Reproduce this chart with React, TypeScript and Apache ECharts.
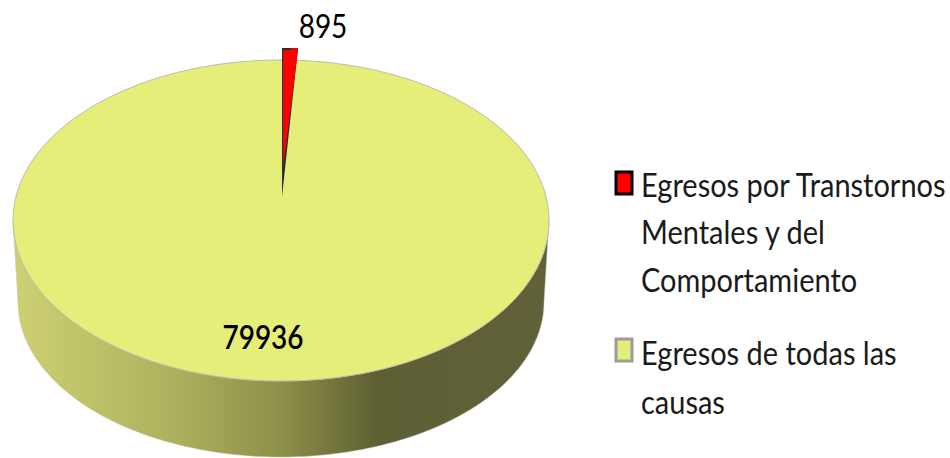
import React, { useEffect, useRef } from "react";
import * as echarts from "echarts";

const sliceNames = ["Egresos por Transtornos Mentales y del Comportamiento", "Egresos de todas las causas"];
const sliceValues = [895, 79936];
const legendLines = [
  ["Egresos por Transtornos", "Mentales y del", "Comportamiento"],
  ["Egresos de todas las", "causas"],
];
const total = sliceValues[0] + sliceValues[1];

const TOP = "#e6ee7a";
const RED = "#ff0000";
const FONT = "Lato, Carlito, 'Open Sans', sans-serif";

function ellipsePts(cx: number, cy: number, rx: number, ry: number, a0: number, a1: number, n = 120) {
  const out: number[][] = [];
  for (let i = 0; i <= n; i++) {
    const a = a0 + ((a1 - a0) * i) / n;
    out.push([cx + rx * Math.cos(a), cy + ry * Math.sin(a)]);
  }
  return out;
}

function renderDisc(_: any, api: any) {
  const value = api.value(0);
  const cx = 281, cy = 220.5, rx = 268, ry = 160.5;
  const top = ellipsePts(cx, cy, rx, ry, 0, Math.PI);
  const bottom = ellipsePts(cx, 302, 263, 155, Math.PI, 0);
  return {
    type: "group",
    children: [
      {
        type: "polygon",
        shape: { points: [...top, ...bottom] },
        style: {
          fill: new echarts.graphic.LinearGradient(0, 0, 1, 0, [
            { offset: 0, color: "#cdd172" },
            { offset: 0.3, color: "#adb15d" },
            { offset: 0.5, color: "#8d9049" },
            { offset: 0.68, color: "#5e5f33" },
            { offset: 1, color: "#60613a" },
          ]),
          stroke: "#c4c4b4",
          lineWidth: 0.5,
        },
      },
      {
        type: "ellipse",
        shape: { cx, cy, rx, ry },
        style: { fill: TOP, stroke: "#bdbdae", lineWidth: 1 },
      },
      {
        type: "text",
        x: 263,
        y: 337,
        scaleY: 1.18,
        style: {
          text: String(value), x: 0, y: 0, fill: "#000",
          font: `600 28px ${FONT}`, align: "center", verticalAlign: "middle",
        },
      },
    ],
  };
}

function renderWedge(_: any, api: any) {
  const value = api.value(0);
  const sweep = (value / total) * Math.PI * 2;
  const ax = 282, ay = 197, wr = 230, hr = 149;
  const tipX = ax + wr * Math.sin(sweep);
  const tipY = ay - hr;
  return {
    type: "group",
    children: [
      {
        type: "polygon",
        shape: { points: [[ax, ay], [ax, tipY], [tipX, tipY]] },
        style: { fill: "#2e2e2e" },
      },
      {
        type: "polygon",
        shape: { points: [[ax + 1.2, ay - 30], [ax + 1.2, tipY + 2], [tipX, tipY + 2]] },
        style: { fill: RED },
      },
      {
        type: "line",
        shape: { x1: ax + 9, y1: tipY + 0.8, x2: tipX, y2: tipY + 0.8 },
        style: { stroke: RED, lineWidth: 1.6 },
      },
      {
        type: "text",
        x: 323,
        y: 26,
        scaleY: 1.18,
        style: {
          text: String(value), x: 0, y: 0, fill: "#000",
          font: `400 28px ${FONT}`, align: "center", verticalAlign: "middle",
        },
      },
    ],
  };
}

const midlines = [[185, 232, 280], [353, 402]];
const markerBoxes = [
  { y: 172, fill: RED, stroke: "#000" },
  { y: 339, fill: TOP, stroke: "#9c9c9c" },
];

const legendGraphic = legendLines.flatMap((lines, i) => [
  {
    type: "rect",
    shape: { x: 616, y: markerBoxes[i].y, width: 16, height: 22 },
    style: { fill: markerBoxes[i].fill, stroke: markerBoxes[i].stroke, lineWidth: 3 },
  },
  ...lines.map((t, j) => ({
    type: "text",
    x: 641,
    y: midlines[i][j],
    scaleY: 1.12,
    style: {
      text: t, x: 0, y: 0, fill: "#1a1a1a",
      font: `400 29px ${FONT}`, align: "left", verticalAlign: "middle",
    },
  })),
]);

export default function App() {
  const ref = useRef<HTMLDivElement>(null);
  useEffect(() => {
    const chart = echarts.init(ref.current!, undefined, { renderer: "svg" });
    chart.setOption({
      animation: false,
      backgroundColor: "#fff",
      graphic: legendGraphic,
      series: [
        { type: "custom", name: sliceNames[1], coordinateSystem: "none", data: [[sliceValues[1]]], renderItem: renderDisc, silent: true, z: 1 },
        { type: "custom", name: sliceNames[0], coordinateSystem: "none", data: [[sliceValues[0]]], renderItem: renderWedge, silent: true, z: 2 },
      ],
    });
    return () => chart.dispose();
  }, []);
  return <div ref={ref} style={{ position: "absolute", left: 0, top: 0, width: 950, height: 458 }} />;
}
